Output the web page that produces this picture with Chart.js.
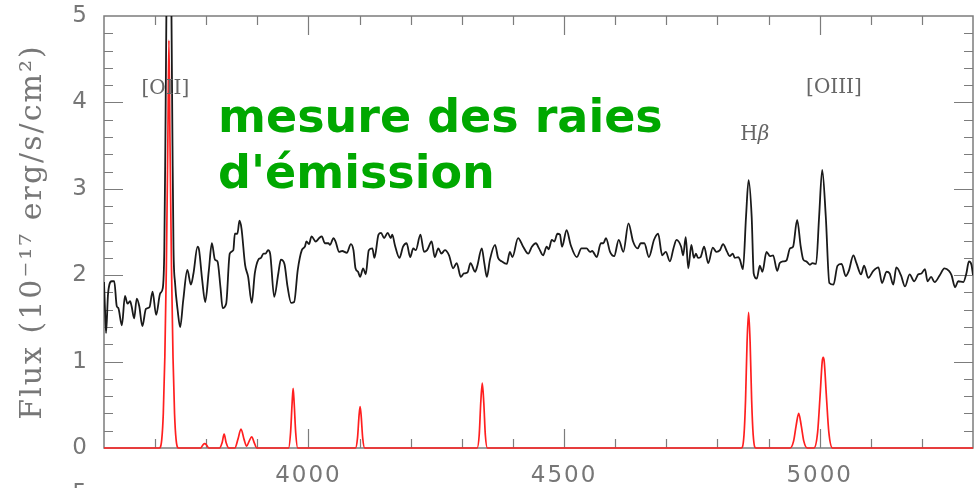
<!DOCTYPE html>
<html><head><meta charset="utf-8">
<script src="https://cdn.jsdelivr.net/npm/chart.js@4"></script>
<style>html,body{margin:0;padding:0;background:#fff;}#wrap{width:980px;height:488px;}</style>
</head><body><div id="wrap"><canvas id="c" width="980" height="488"></canvas></div>
<script>
// ---- data ----
const spectrumWave = [3600,3602,3604,3608,3615,3620,3625,3628,3635,3641,3646,3651,3654,3659,3664,3669,3675,3682,3689,3695,3702,3710,3715,3718,3720,3722,3724,3727,3730,3732,3734,3736,3739,3744,3749,3755,3763,3770,3775,3783,3786,3792,3798,3805,3811,3817,3822,3828,3832,3839,3846,3853,3856,3861,3865,3869,3876,3882,3889,3895,3902,3907,3912,3916,3921,3925,3933,3941,3946,3953,3959,3966,3972,3979,3987,3993,3996,4001,4006,4014,4021,4026,4032,4039,4042,4049,4053,4060,4066,4075,4083,4088,4092,4097,4101,4107,4112,4118,4125,4129,4137,4142,4148,4155,4161,4164,4169,4178,4185,4192,4199,4205,4210,4219,4226,4232,4241,4247,4254,4260,4267,4275,4283,4290,4298,4304,4311,4317,4326,4330,4339,4344,4349,4355,4365,4371,4378,4388,4394,4399,4410,4420,4430,4437,4445,4451,4459,4466,4470,4476,4481,4487,4492,4496,4505,4513,4525,4534,4544,4551,4555,4564,4572,4577,4582,4590,4598,4607,4616,4626,4635,4644,4650,4657,4666,4676,4684,4692,4699,4707,4714,4720,4729,4733,4738,4743,4749,4754,4758,4762,4767,4774,4782,4791,4798,4805,4811,4819,4824,4830,4834,4841,4844,4850,4856,4861,4867,4871,4877,4883,4888,4896,4903,4909,4917,4922,4929,4935,4942,4948,4956,4963,4968,4974,4981,4986,4993,4999,5005,5012,5019,5027,5035,5043,5051,5057,5066,5072,5081,5087,5095,5105,5115,5122,5131,5137,5144,5150,5159,5167,5176,5185,5193,5199,5206,5211,5218,5225,5235,5244,5253,5258,5265,5271,5281,5287,5292,5297,5300];
const spectrumFlux = [1.92,1.60,1.33,1.79,1.93,1.93,1.64,1.62,1.42,1.76,1.67,1.70,1.64,1.50,1.73,1.64,1.41,1.61,1.63,1.81,1.54,1.79,1.85,2.30,3.50,5.00,6.20,6.50,6.20,5.00,3.50,2.30,1.91,1.60,1.40,1.71,2.06,1.89,2.02,2.33,2.29,1.95,1.69,2.05,2.37,2.18,2.16,1.85,1.62,1.67,2.25,2.29,2.48,2.48,2.63,2.54,2.12,1.98,1.68,2.02,2.18,2.20,2.25,2.25,2.29,2.25,1.75,2.02,2.18,2.13,1.87,1.68,1.69,2.06,2.29,2.33,2.39,2.36,2.45,2.39,2.43,2.45,2.37,2.37,2.35,2.43,2.39,2.27,2.28,2.26,2.36,2.29,2.08,2.04,1.98,2.08,2.01,2.29,2.31,2.20,2.47,2.49,2.43,2.49,2.43,2.47,2.35,2.20,2.33,2.37,2.21,2.31,2.29,2.47,2.27,2.29,2.39,2.21,2.31,2.25,2.29,2.23,2.08,2.14,1.98,2.02,2.03,2.14,2.04,2.10,2.31,2.14,1.98,2.18,2.35,2.20,2.16,2.13,2.27,2.21,2.43,2.33,2.25,2.33,2.37,2.31,2.23,2.33,2.30,2.41,2.39,2.48,2.47,2.33,2.52,2.35,2.21,2.31,2.31,2.27,2.28,2.21,2.37,2.37,2.43,2.27,2.22,2.41,2.27,2.60,2.39,2.31,2.37,2.37,2.21,2.41,2.48,2.23,2.27,2.16,2.31,2.41,2.33,2.23,2.44,2.08,2.35,2.20,2.25,2.20,2.21,2.33,2.14,2.32,2.27,2.29,2.36,2.27,2.22,2.25,2.20,2.21,2.18,2.07,2.68,3.10,2.68,2.02,1.96,2.11,2.04,2.27,2.22,2.23,2.05,2.14,2.16,2.17,2.31,2.33,2.64,2.33,2.18,2.16,2.12,2.14,2.13,2.68,3.22,2.68,1.91,1.89,2.11,2.13,1.99,2.05,2.23,2.14,2.01,2.11,1.97,2.05,2.09,1.91,2.04,2.02,1.89,2.09,2.00,1.87,2.01,1.93,2.01,2.02,2.07,1.93,1.98,1.92,2.00,2.08,2.05,2.00,1.86,1.93,1.92,2.02,2.16,2.12,2.00];
const modelWave = [3600,3708,3713,3716,3719,3722,3725,3727,3729,3732,3735,3738,3741,3746,3789,3794,3797,3800,3805,3826,3831,3835,3839,3844,3856,3862,3868,3874,3879,3884,3889,3894,3899,3961,3965,3968,3970,3972,3975,3979,4092,4096,4099,4101,4103,4106,4110,4330,4334,4337,4340,4343,4346,4350,4847,4852,4855,4858,4861,4864,4867,4870,4875,4942,4949,4954,4959,4964,4969,4976,4989,4996,5001,5005,5007,5009,5013,5018,5025,5300];
const modelFlux = [0,0,0.10,0.40,1.05,2.10,3.60,4.72,3.60,2.10,1.05,0.40,0.10,0,0,0.04,0.05,0.04,0,0,0.06,0.16,0.06,0,0,0.10,0.22,0.10,0.02,0.08,0.13,0.06,0,0,0.18,0.52,0.69,0.52,0.18,0,0,0.12,0.38,0.48,0.38,0.12,0,0,0.15,0.52,0.75,0.52,0.15,0,0,0.15,0.55,1.22,1.57,1.22,0.55,0.15,0,0,0.08,0.26,0.40,0.26,0.08,0,0,0.18,0.62,1.00,1.05,1.00,0.62,0.18,0,0];
const xTickValues = [4000, 4500, 5000];
const yTickValues = [0, 1, 2, 3, 4, 5];
const lineNames = ['[OII]', 'H|β', '[OIII]'];
const lineNameWave = [3720, 4873, 5028];
const lineNameFlux = [4.16, 3.62, 4.17];
const headlineLines = ['mesure des raies', "d'émission"];
const yAxisTitle = 'Flux (10⁻¹⁷ erg/s/cm²)';

const decor = {
  id: 'decor',
  beforeDraw(chart) { chart.ctx.letterSpacing = '2px'; },
  beforeDatasetsDraw(chart) {
    const {ctx, chartArea: a, scales: {x, y}} = chart;
    ctx.save();
    ctx.strokeStyle = '#7c7c7c';
    ctx.lineWidth = 1.5;
    ctx.strokeRect(a.left, a.top, a.right - a.left, a.bottom - a.top);
    ctx.lineWidth = 1.2;
    ctx.beginPath();
    for (let v = 3700; v <= 5200; v += 100) {
      const px = Math.round(x.getPixelForValue(v)) + 0.5;
      const len = xTickValues.includes(v) ? 19 : 9;
      ctx.moveTo(px, a.bottom); ctx.lineTo(px, a.bottom - len);
      ctx.moveTo(px, a.top); ctx.lineTo(px, a.top + len);
    }
    for (let i = 1; i < 25; i++) {
      const py = Math.round(y.getPixelForValue(i * 0.2)) + 0.5;
      const len = (i % 5 === 0) ? 19 : 9;
      ctx.moveTo(a.left, py); ctx.lineTo(a.left + len, py);
      ctx.moveTo(a.right, py); ctx.lineTo(a.right - len, py);
    }
    ctx.stroke();
    ctx.restore();
  },
  afterDraw(chart) {
    const {ctx, scales: {x, y}} = chart;
    ctx.save();
    ctx.letterSpacing = '0px';
    ctx.fillStyle = '#666';
    ctx.textBaseline = 'middle';
    lineNames.forEach((t, i) => {
      const cx = x.getPixelForValue(lineNameWave[i]);
      const cy = y.getPixelForValue(lineNameFlux[i]);
      const parts = t.split('|');
      if (parts.length === 1) {
        ctx.font = '20px "DejaVu Serif"';
        ctx.textAlign = 'center';
        ctx.fillText(t, cx, cy);
      } else {
        ctx.font = '20px "DejaVu Serif"';
        const w1 = ctx.measureText(parts[0]).width;
        ctx.font = 'italic 20px "DejaVu Serif"';
        const w2 = ctx.measureText(parts[1]).width;
        let sx = cx - (w1 + w2) / 2;
        ctx.textAlign = 'left';
        ctx.font = '20px "DejaVu Serif"';
        ctx.fillText(parts[0], sx, cy);
        ctx.font = 'italic 20px "DejaVu Serif"';
        ctx.fillText(parts[1], sx + w1, cy);
      }
    });
    // headline
    ctx.fillStyle = '#00a800';
    ctx.font = 'bold 46px "DejaVu Sans"';
    ctx.textAlign = 'left';
    ctx.textBaseline = 'alphabetic';
    ctx.fillText(headlineLines[0], 218, 132);
    ctx.fillText(headlineLines[1], 218, 188);
    // partial label of the panel below
    ctx.fillStyle = '#777';
    ctx.font = '23px "DejaVu Sans"';
    ctx.textAlign = 'right';
    ctx.fillText('5', 87, 500);
    ctx.restore();
  }
};

new Chart(document.getElementById('c').getContext('2d'), {
  type: 'line',
  data: {
    datasets: [
      { label: 'model', data: modelWave.map((w, i) => ({x: w, y: modelFlux[i]})),
        borderColor: '#ff1f1f', borderWidth: 1.7, pointRadius: 0, fill: false, cubicInterpolationMode: 'monotone',
        clip: { left: 0, top: 0, right: 0, bottom: 3 } },
      { label: 'spectrum', data: spectrumWave.map((w, i) => ({x: w, y: spectrumFlux[i]})),
        borderColor: '#1a1a1a', borderWidth: 1.8, pointRadius: 0, fill: false, cubicInterpolationMode: 'monotone' }
    ]
  },
  options: {
    responsive: false, animation: false, devicePixelRatio: 1,
    layout: { padding: { top: 16, right: 7, left: 0, bottom: 0 } },
    plugins: { legend: { display: false }, tooltip: { enabled: false } },
    scales: {
      x: {
        type: 'linear', min: 3600, max: 5300,
        afterBuildTicks: s => { s.ticks = xTickValues.map(v => ({value: v})); },
        afterFit: s => { s.height = 40; s.paddingLeft = 0; s.paddingRight = 0; },
        grid: { display: false, drawTicks: false }, border: { display: false },
        ticks: { font: { family: 'DejaVu Sans', size: 23 }, color: '#777', padding: 14, maxRotation: 0, autoSkip: false,
                 callback: v => String(v) }
      },
      y: {
        type: 'linear', min: 0, max: 5,
        afterBuildTicks: s => { s.ticks = yTickValues.map(v => ({value: v})); },
        afterFit: s => { s.width = 104; s.paddingTop = 0; s.paddingBottom = 0; },
        grid: { display: false, drawTicks: false }, border: { display: false },
        ticks: { font: { family: 'DejaVu Sans', size: 23 }, color: '#777', padding: 15 },
        title: { display: true, text: yAxisTitle, font: { family: 'DejaVu Serif', size: 30 }, color: '#777', padding: { top: 15, bottom: 0 } }
      }
    }
  },
  plugins: [decor]
});
</script>
</body></html>
